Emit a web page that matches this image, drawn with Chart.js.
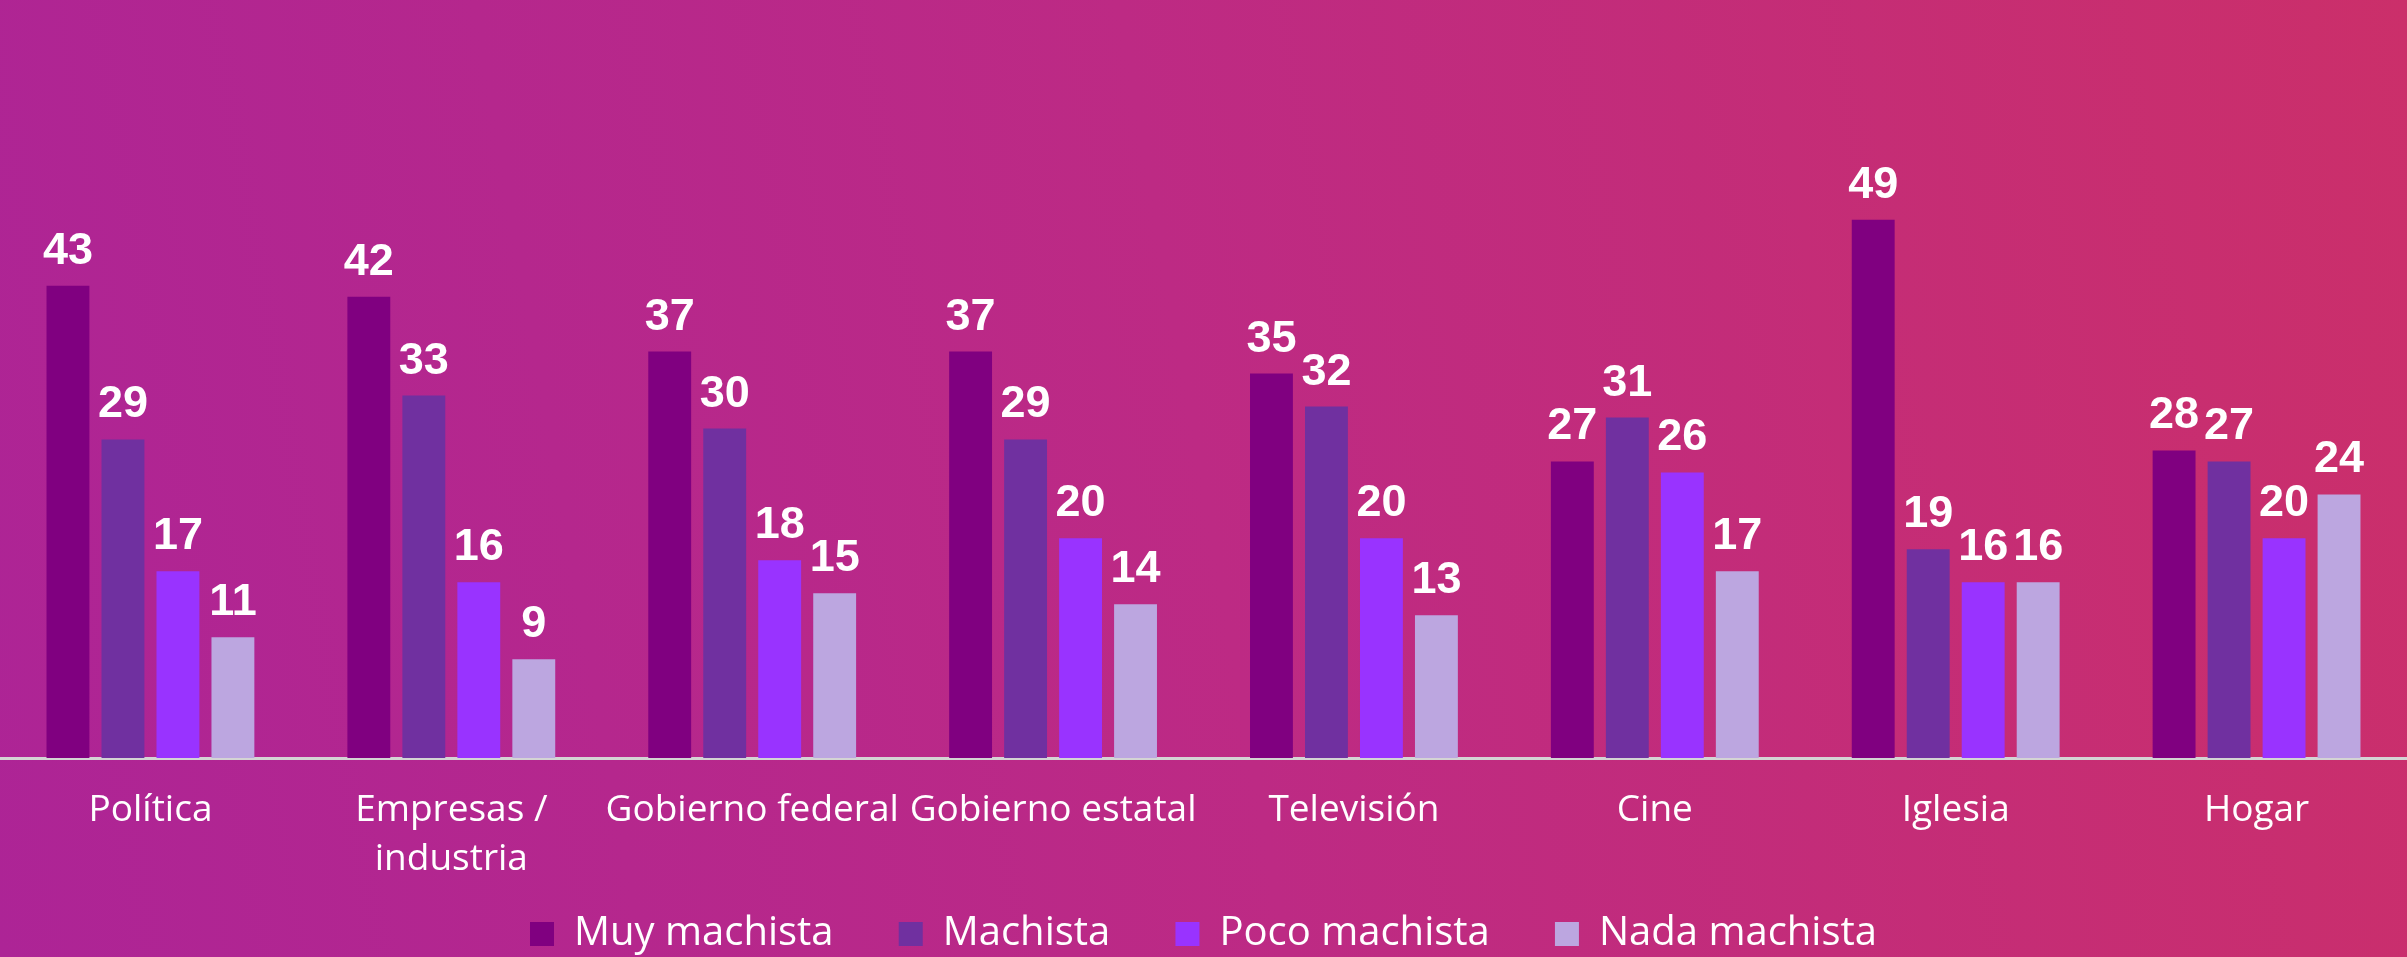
<!DOCTYPE html>
<html lang="es">
<head>
<meta charset="utf-8">
<title>Percepción de machismo por ámbito</title>
<script src="https://cdn.jsdelivr.net/npm/chart.js@4/dist/chart.umd.min.js"></script>
<style>
  html, body {
    margin: 0;
    padding: 0;
    width: 2407px;
    height: 957px;
    overflow: hidden;
  }
  body {
    background: linear-gradient(80deg, #ad2496 0%, #bd2a84 50%, #cb2f6a 100%);
  }
  #wrap {
    position: relative;
    width: 2407px;
    height: 957px;
  }
</style>
</head>
<body>
<div id="wrap"><canvas id="chart"></canvas></div>
<script>
// Datos de la gráfica (porcentajes)
const categories = ['Política', ['Empresas /', 'industria'], 'Gobierno federal', 'Gobierno estatal', 'Televisión', 'Cine', 'Iglesia', 'Hogar'];
const seriesNames = ['Muy machista', 'Machista', 'Poco machista', 'Nada machista'];
const muyMachista = [43, 42, 37, 37, 35, 27, 49, 28];
const machista = [29, 33, 30, 29, 32, 31, 19, 27];
const pocoMachista = [17, 16, 18, 20, 20, 26, 16, 20];
const nadaMachista = [11, 9, 15, 14, 13, 17, 16, 24];

const SERIES_COLORS = ['#800080', '#7030a0', '#9933ff', '#bca6e0'];
const LABEL_FONT = 'Open Sans, "DejaVu Sans", sans-serif';

/** Draws the value above each bar (white, bold). */
const barValueLabels = {
  id: 'barValueLabels',
  afterDatasetsDraw(chart) {
    const { ctx } = chart;
    ctx.save();
    ctx.fillStyle = '#ffffff';
    ctx.font = 'bold 45px "Liberation Sans", Arial, sans-serif';
    ctx.textAlign = 'center';
    ctx.textBaseline = 'alphabetic';
    chart.data.datasets.forEach((ds, i) => {
      const meta = chart.getDatasetMeta(i);
      meta.data.forEach((bar, j) => {
        ctx.fillText(String(ds.data[j]), bar.x, bar.y - 22);
      });
    });
    ctx.restore();
  }
};

const seriesValues = [muyMachista, machista, pocoMachista, nadaMachista];

new Chart(document.getElementById('chart'), {
  type: 'bar',
  data: {
    labels: categories,
    datasets: seriesNames.map((name, i) => ({
      label: name,
      data: seriesValues[i],
      backgroundColor: SERIES_COLORS[i],
      borderWidth: 0,
      categoryPercentage: 0.731,
      barPercentage: 0.78,
    })),
  },
  options: {
    responsive: true,
    maintainAspectRatio: false,
    animation: false,
    layout: { padding: { top: 99, left: 0, right: 0, bottom: 0 } },
    scales: {
      x: {
        grid: { display: false, drawTicks: false },
        border: { display: true, color: '#d4d4d4', width: 3 },
        ticks: {
          color: '#ffffff',
          padding: 28,
          maxRotation: 0,
          autoSkip: false,
          font: { family: LABEL_FONT, size: 37, lineHeight: 1.32 },
        },
        afterFit(scale) {
          scale.height = 122;
        },
      },
      y: {
        display: false,
        min: 0,
        max: 60,
      },
    },
    plugins: {
      legend: {
        position: 'bottom',
        maxHeight: 77,
        labels: {
          color: '#ffffff',
          boxWidth: 24,
          boxHeight: 24,
          padding: 34,
          font: { family: LABEL_FONT, size: 40 },
          // extra room after each entry, like the spacing of the original legend
          generateLabels(chart) {
            const items = Chart.defaults.plugins.legend.labels.generateLabels(chart);
            return items.map((it, i) => ({
              ...it,
              text: i < items.length - 1 ? it.text + '   ' : it.text,
            }));
          },
        },
      },
      tooltip: { enabled: false },
    },
  },
  plugins: [barValueLabels],
});
</script>
</body>
</html>
